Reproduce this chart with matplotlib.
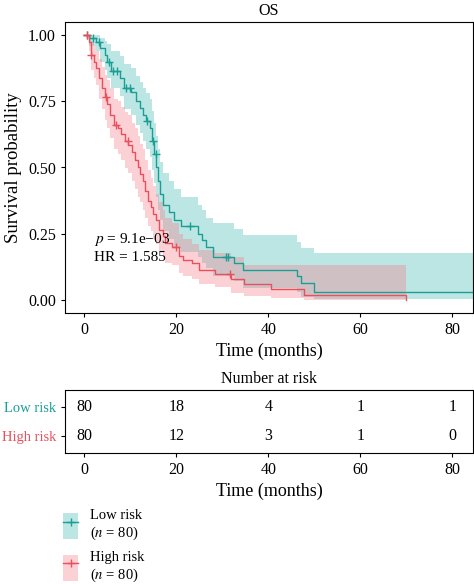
import matplotlib
matplotlib.use("Agg")
import matplotlib.pyplot as plt
import numpy as np
from matplotlib.patches import Patch
from matplotlib.lines import Line2D

plt.rcParams['font.family'] = ['Liberation Serif', 'DejaVu Serif']
plt.rcParams['mathtext.fontset'] = 'stix'

# Low risk group: KM steps (time, survival) and confidence band
t_low = [0, 1.0, 2.6, 3.4, 4.4, 5.0, 5.8, 7.8, 8.6, 10.2, 11.2, 12.0, 12.8, 13.5, 14.2,
         14.8, 15.2, 15.6, 16.0, 16.5, 17.2, 18.4, 19.4, 21.0, 24.8, 25.6, 26.4, 28.0,
         32.5, 34.4, 46.2, 47.0, 49.9, 84.5]
s_low = [1.0, 0.988, 0.975, 0.95, 0.925, 0.90, 0.863, 0.838, 0.80, 0.785, 0.75, 0.725,
         0.70, 0.675, 0.65, 0.60, 0.55, 0.50, 0.45, 0.40, 0.36, 0.33, 0.30, 0.277, 0.25,
         0.225, 0.20, 0.163, 0.138, 0.113, 0.088, 0.063, 0.028, 0.028]
up_low = [1.0, 1.0, 1.0, 0.99, 0.98, 0.965, 0.94, 0.92, 0.89, 0.875, 0.845, 0.825, 0.80,
          0.78, 0.76, 0.715, 0.67, 0.62, 0.57, 0.52, 0.48, 0.45, 0.42, 0.39, 0.36, 0.34,
          0.31, 0.29, 0.268, 0.245, 0.22, 0.196, 0.178, 0.178]
lo_low = [1.0, 0.96, 0.94, 0.90, 0.87, 0.84, 0.80, 0.77, 0.72, 0.70, 0.66, 0.63, 0.60,
          0.57, 0.54, 0.49, 0.44, 0.39, 0.34, 0.30, 0.26, 0.23, 0.20, 0.18, 0.16, 0.14,
          0.12, 0.09, 0.07, 0.045, 0.03, 0.012, 0.004, 0.004]
cens_low_t = [0.5, 1.8, 3.2, 5.4, 6.3, 7.2, 9.0, 9.9, 13.7, 14.9, 15.5, 23.0, 30.7, 31.2]

# High risk group
t_high = [0, 1.0, 1.4, 2.0, 2.6, 3.2, 3.8, 4.4, 5.0, 5.6, 6.5, 7.4, 8.0, 8.8, 9.6, 10.4,
          11.0, 11.6, 12.2, 12.8, 13.3, 13.8, 14.4, 15.0, 15.6, 16.2, 17.0, 17.6, 19.0,
          20.5, 21.5, 23.5, 25.0, 28.5, 31.8, 34.8, 40.6, 47.7, 70.0]
s_high = [1.0, 0.975, 0.925, 0.90, 0.875, 0.84, 0.80, 0.765, 0.74, 0.70, 0.66, 0.65,
          0.625, 0.60, 0.585, 0.56, 0.53, 0.50, 0.475, 0.45, 0.41, 0.375, 0.35, 0.325,
          0.30, 0.265, 0.24, 0.215, 0.20, 0.165, 0.15, 0.138, 0.113, 0.098, 0.078, 0.06,
          0.04, 0.019, 0.0]
up_high = [1.0, 1.0, 0.98, 0.96, 0.94, 0.91, 0.88, 0.85, 0.83, 0.80, 0.76, 0.75, 0.73,
           0.71, 0.70, 0.67, 0.65, 0.62, 0.59, 0.57, 0.53, 0.49, 0.46, 0.43, 0.40, 0.37,
           0.34, 0.31, 0.29, 0.25, 0.23, 0.21, 0.19, 0.175, 0.16, 0.132, 0.132, 0.132, 0.132]
lo_high = [1.0, 0.94, 0.87, 0.84, 0.81, 0.76, 0.72, 0.68, 0.65, 0.61, 0.57, 0.55, 0.53,
           0.50, 0.48, 0.45, 0.42, 0.39, 0.37, 0.34, 0.31, 0.28, 0.26, 0.23, 0.21, 0.18,
           0.16, 0.14, 0.13, 0.10, 0.09, 0.08, 0.06, 0.05, 0.025, 0.015, 0.006, 0.0, 0.0]
cens_high_t = [0.5, 1.5, 4.7, 6.9, 9.4, 20.0, 31.6]

risk_times = [0, 20, 40, 60, 80]
risk_low = [80, 18, 4, 1, 1]
risk_high = [80, 12, 3, 1, 0]

col_low = "#1a9e96"
col_high = "#e8505e"
fill_low = "#3fb8b4"
fill_high = "#f47c88"

fig = plt.figure(figsize=(4.74, 5.84), dpi=100)
ax = fig.add_axes([65 / 474, 1 - 313 / 584, 408 / 474, 291 / 584])

def step_val(ts, ss, t):
    i = np.searchsorted(ts, t, side='right') - 1
    return ss[i]

for ts, ss, up, lo, ct, lc, fc in [
        (t_low, s_low, up_low, lo_low, cens_low_t, col_low, fill_low),
        (t_high, s_high, up_high, lo_high, cens_high_t, col_high, fill_high)]:
    ax.fill_between(ts, lo, up, step='post', color=fc, alpha=0.35, lw=0)
    ax.step(ts, ss, where='post', color=lc, lw=1.0)
    cy = [step_val(ts, ss, t) for t in ct]
    ax.plot(ct, cy, '+', color=lc, ms=6, mew=1.0)

ax.set_xlim(-4.2, 84.5)
ax.set_ylim(-0.05, 1.05)
ax.set_xticks([0, 20, 40, 60, 80])
ax.set_yticks([0, 0.25, 0.5, 0.75, 1.0])
ax.set_yticklabels(["0.00", "0.25", "0.50", "0.75", "1.00"])
ax.tick_params(labelsize=11.5, length=3)
ax.set_xlabel("Time (months)", fontsize=13, labelpad=3)
ax.set_ylabel("Survival probability", fontsize=13.5)
ax.yaxis.set_label_coords(-0.105, 0.5)
ax.set_title("OS", fontsize=11.5, pad=5)
ax.text(2, 0.196, "$p$ = 9.1e\u221203\nHR = 1.585", fontsize=11, linespacing=1.3,
        va='center')

# risk table
rt = fig.add_axes([65 / 474, 1 - 453 / 584, 408 / 474, 63 / 584])
rt.set_xlim(-4.2, 84.5)
rt.set_ylim(0.4, 2.6)
for t, a, b in zip(risk_times, risk_low, risk_high):
    rt.text(t, 2, str(a), ha='center', va='center', fontsize=11.5)
    rt.text(t, 1, str(b), ha='center', va='center', fontsize=11.5)
rt.set_xticks(risk_times)
rt.set_yticks([2, 1])
rt.set_yticklabels(["Low risk", "High risk"])
for lab, c in zip(rt.get_yticklabels(), [col_low, col_high]):
    lab.set_color(c)
rt.tick_params(axis='x', labelsize=11.5, length=3)
rt.tick_params(axis='y', labelsize=10.5, length=3)
rt.set_xlabel("Time (months)", fontsize=13, labelpad=3)
rt.set_title("Number at risk", fontsize=11.5, pad=5)

handles = [
    (Patch(facecolor=fill_low, alpha=0.35, lw=0), Line2D([], [], color=col_low, marker='+', lw=1)),
    (Patch(facecolor=fill_high, alpha=0.35, lw=0), Line2D([], [], color=col_high, marker='+', lw=1)),
]
fig.legend(handles, ["Low risk\n($n$ = 80)", "High risk\n($n$ = 80)"],
           loc='upper left', bbox_to_anchor=(56 / 474, 1 - 502 / 584), frameon=False,
           fontsize=10.5, handlelength=1.0, handleheight=2.4, labelspacing=0.6,
           handletextpad=0.8, borderaxespad=0.2, borderpad=0.3)

fig.savefig("out.png", dpi=100)
